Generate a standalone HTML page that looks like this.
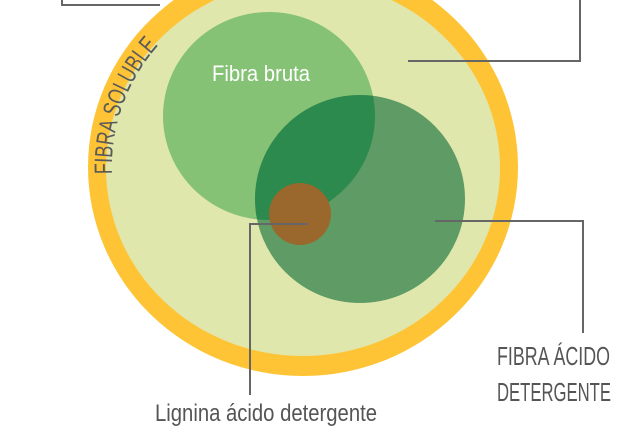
<!DOCTYPE html>
<html><head><meta charset="utf-8"><style>
html,body{margin:0;padding:0;background:#fff;width:634px;height:433px;overflow:hidden}
svg{display:block}
text{font-family:"Liberation Sans",sans-serif;}
</style></head><body>
<svg width="634" height="433" viewBox="0 0 634 433" xmlns="http://www.w3.org/2000/svg">
<ellipse cx="303" cy="167" rx="215" ry="209" fill="#fec436"/>
<ellipse cx="303" cy="168" rx="197" ry="188" fill="#dfe7ad"/>
<ellipse cx="269" cy="116" rx="106" ry="104" fill="#85c275"/>
<ellipse cx="360" cy="199" rx="105" ry="104" fill="#5f9b64"/>
<clipPath id="c"><ellipse cx="269" cy="116" rx="106" ry="104"/></clipPath>
<ellipse cx="360" cy="199" rx="105" ry="104" fill="#2d8a4e" clip-path="url(#c)"/>
<ellipse cx="300" cy="214" rx="31" ry="31" fill="#9a672d"/>
<g stroke="#666" stroke-width="2" fill="none">
<polyline points="62,0 62,5 160,5"/>
<polyline points="408,61 580,61 580,0"/>
<polyline points="435,221 583,221 583,333"/>
<polyline points="308,224 250,224 250,395"/>
</g>
<text x="212" y="81" font-size="22" fill="#fff" textLength="98" lengthAdjust="spacingAndGlyphs">Fibra bruta</text>
<text x="155" y="421" font-size="24" fill="#555" textLength="222" lengthAdjust="spacingAndGlyphs">Lignina ácido detergente</text>
<text x="497" y="365" font-size="26" fill="#555" textLength="113" lengthAdjust="spacingAndGlyphs">FIBRA ÁCIDO</text>
<text x="497" y="401" font-size="26" fill="#555" textLength="114" lengthAdjust="spacingAndGlyphs">DETERGENTE</text>
<path id="arc" d="M 112 174 A 191 186 0 0 1 303 -19" fill="none"/>
<text font-size="25" fill="#5a5a5a"><textPath href="#arc" textLength="140" lengthAdjust="spacingAndGlyphs">FIBRA SOLUBLE</textPath></text>
</svg>
</body></html>
